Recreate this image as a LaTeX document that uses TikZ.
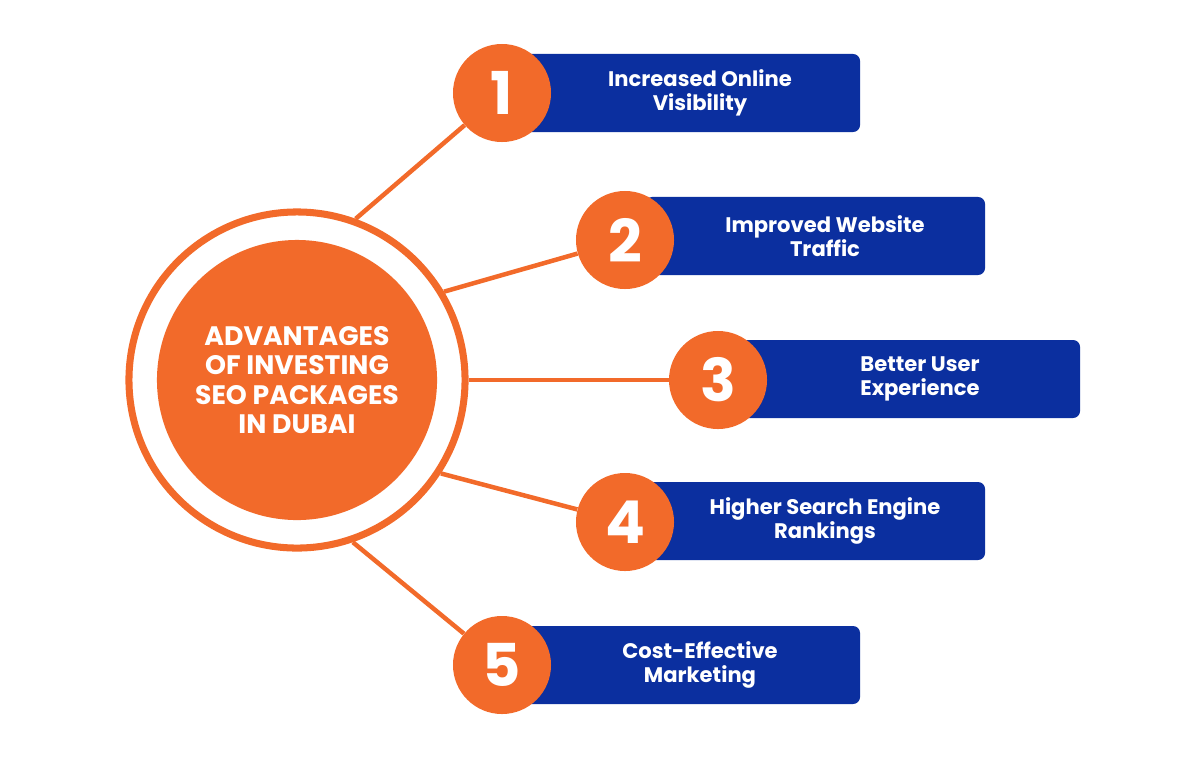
\documentclass[tikz,border=0pt]{standalone}
\usepackage{fontspec}
\setmainfont{Poppins}[BoldFont={* Bold}]
\usepackage{tikz}

\definecolor{seoorange}{HTML}{F26A2A}
\definecolor{seoblue}{HTML}{0B2F9F}

\tikzset{
	link/.style={seoorange, line width=3.2pt},
	numball/.style={circle, fill=seoorange, minimum size=2.45cm, inner sep=0pt,
		text=white, font=\bfseries\fontsize{42}{42}\selectfont},
	tag/.style={fill=seoblue, rounded corners=5pt, minimum width=8.5cm, minimum height=1.95cm,
		text=white, align=center, font=\bfseries\fontsize{15}{17}\selectfont},
}

\begin{document}
\begin{tikzpicture}[x=0.025cm,y=-0.025cm]
	\useasboundingbox (0,0) rectangle (1200,759);

	\node (ring) at (297,380) [circle, draw=seoorange, line width=5pt, fill=white, minimum size=8.4cm] {};

	% boxes first, numbers on top
	\node (t1) at (690,93) [tag] {\hspace*{0.5cm}Increased Online\\\hspace*{0.5cm}Visibility};
	\node (t2) at (815,236) [tag] {\hspace*{0.5cm}Improved Website\\\hspace*{0.5cm}Traffic};
	\node (t3) at (910,379) [tag] {\hspace*{0.5cm}Better User\\\hspace*{0.5cm}Experience};
	\node (t4) at (815,521) [tag] {\hspace*{0.5cm}Higher Search Engine\\\hspace*{0.5cm}Rankings};
	\node (t5) at (690,665) [tag] {\hspace*{0.5cm}Cost-Effective\\\hspace*{0.5cm}Marketing};

	\node (n1) at (502,93) [numball] {1};
	\node (n2) at (625,240) [numball] {2};
	\node (n3) at (718,380) [numball] {3};
	\node (n4) at (625,522) [numball] {4};
	\node (n5) at (502,665) [numball] {5};

	\foreach \i/\a in {1/70,2/31,3/0,4/-33,5/-71}
		\draw [link] (ring.\a) -- (n\i);

	\node (hub) at (297,380) [circle, fill=seoorange, minimum size=7cm, text=white, align=center,
		font=\bfseries\fontsize{19}{21}\selectfont] {ADVANTAGES\\OF INVESTING\\SEO PACKAGES\\IN DUBAI};
\end{tikzpicture}
\end{document}
